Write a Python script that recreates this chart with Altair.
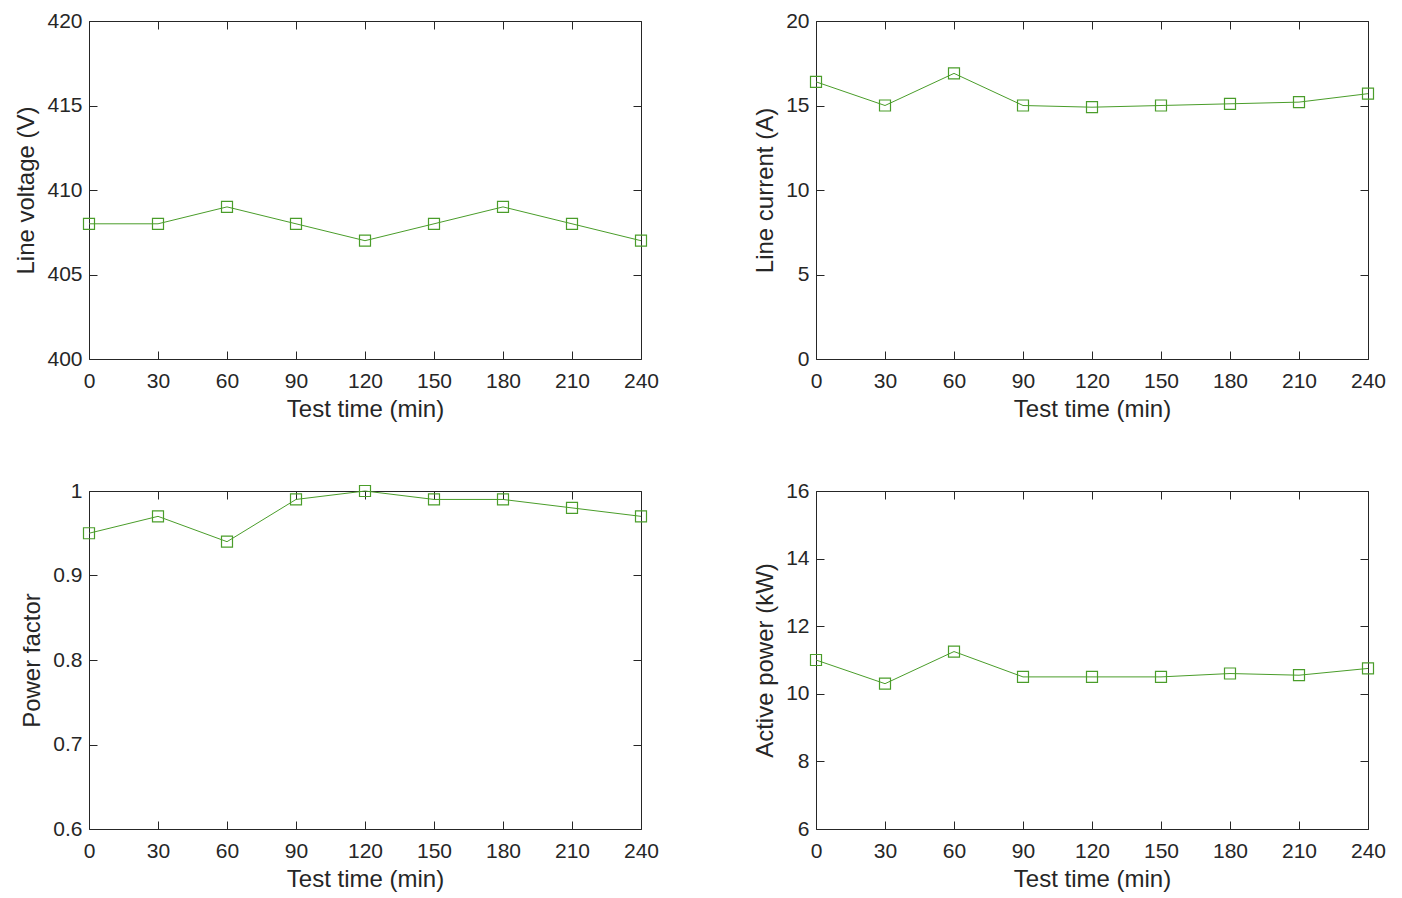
import altair as alt
import pandas as pd

time_min = [0, 30, 60, 90, 120, 150, 180, 210, 240]
line_voltage = [408, 408, 409, 408, 407, 408, 409, 408, 407]
line_current = [16.4, 15.0, 16.9, 15.0, 14.9, 15.0, 15.1, 15.2, 15.7]
power_factor = [0.95, 0.97, 0.94, 0.99, 1.00, 0.99, 0.99, 0.98, 0.97]
active_power = [11.0, 10.3, 11.25, 10.5, 10.5, 10.5, 10.6, 10.55, 10.75]

x_ticks = [0, 30, 60, 90, 120, 150, 180, 210, 240]
v_ticks = [400, 405, 410, 415, 420]
c_ticks = [0, 5, 10, 15, 20]
pf_ticks = [0.6, 0.7, 0.8, 0.9, 1.0]
p_ticks = [6, 8, 10, 12, 14, 16]

df = pd.DataFrame({
    "time": time_min,
    "voltage": line_voltage,
    "current": line_current,
    "pf": power_factor,
    "power": active_power,
})

GREEN = "#4a9d2a"
INK = "#262626"
FONT = "Liberation Sans"


def panel(col, ytitle, domain, yticks, fmt):
    base = alt.Chart(df)
    xscale = alt.Scale(domain=[0, 240], nice=False)
    yscale = alt.Scale(domain=domain, nice=False, zero=False)
    line = base.mark_line(color=GREEN, strokeWidth=1).encode(
        x=alt.X("time:Q", scale=xscale,
                axis=alt.Axis(values=x_ticks, title="Test time (min)", orient="bottom",
                              offset=-8, tickSize=8, domain=False, grid=False,
                              labelPadding=11, labelFlush=False, labelOverlap=False,
                              titlePadding=6)),
        y=alt.Y(f"{col}:Q", scale=yscale,
                axis=alt.Axis(values=yticks, title=ytitle, orient="left", format=fmt,
                              offset=-8, tickSize=8, domain=False, grid=False,
                              labelPadding=7, labelOverlap=False, titlePadding=8)),
    )
    pts = base.mark_point(shape="square", filled=False, size=121, color=GREEN,
                          strokeWidth=1.2, opacity=1).encode(
        x=alt.X("time:Q", scale=xscale,
                axis=alt.Axis(values=x_ticks, title=None, orient="top", labels=False,
                              offset=-8, tickSize=8, domain=False, grid=False)),
        y=alt.Y(f"{col}:Q", scale=yscale,
                axis=alt.Axis(values=yticks, title=None, orient="right", labels=False,
                              offset=-8, tickSize=8, domain=False, grid=False)),
    )
    return alt.layer(line, pts).resolve_axis(x="independent", y="independent").properties(
        width=552, height=338)


p1 = panel("voltage", "Line voltage (V)", [400, 420], v_ticks, "d")
p2 = panel("current", "Line current (A)", [0, 20], c_ticks, "d")
p3 = panel("pf", "Power factor", [0.6, 1.0], pf_ticks, "~g")
p4 = panel("power", "Active power (kW)", [6, 16], p_ticks, "d")

chart = alt.concat(p1, p2, p3, p4, columns=2, spacing={"row": 132, "column": 175},
                   bounds="flush").properties(
    padding={"left": 6, "top": 1, "right": 5, "bottom": 0},
    background="white",
).configure_view(
    stroke=INK, strokeWidth=1
).configure_axis(
    labelFont=FONT, titleFont=FONT, labelFontSize=21, titleFontSize=24,
    labelColor=INK, titleColor=INK, tickColor=INK, tickWidth=1,
    titleFontWeight="normal"
)

chart.save("out.html", embed_options={"renderer": "svg", "actions": False})
